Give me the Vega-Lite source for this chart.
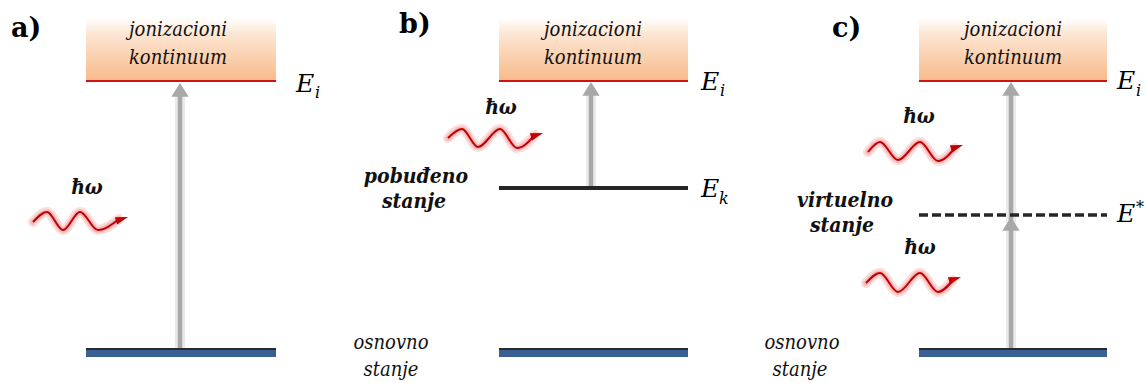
{
  "$schema": "https://vega.github.io/schema/vega-lite/v6.json",
  "width": 1146,
  "height": 383,
  "padding": 0,
  "autosize": {"type": "fit", "contains": "padding"},
  "background": "white",
  "config": {"view": {"stroke": null}},
  "datasets": {
    "continuum": [
      {"panel": "a", "x": 86, "x2": 276, "y": 18, "y2": 81},
      {"panel": "b", "x": 499, "x2": 688, "y": 18, "y2": 81},
      {"panel": "c", "x": 919, "x2": 1107, "y": 18, "y2": 81}
    ],
    "ionization": [
      {"panel": "a", "x": 86, "x2": 276, "y": 81},
      {"panel": "b", "x": 499, "x2": 688, "y": 81},
      {"panel": "c", "x": 919, "x2": 1107, "y": 81}
    ],
    "ground": [
      {"panel": "a", "x": 86, "x2": 276, "y": 349, "y2": 357},
      {"panel": "b", "x": 499, "x2": 688, "y": 349, "y2": 357},
      {"panel": "c", "x": 919, "x2": 1107, "y": 349, "y2": 357}
    ],
    "excited": [
      {"panel": "b", "x": 499, "x2": 688, "y": 188}
    ],
    "virtual": [
      {"panel": "c", "x": 919, "x2": 1107, "y": 215}
    ],
    "shafts": [
      {"panel": "a", "x": 180, "y": 349, "y2": 92},
      {"panel": "b", "x": 591, "y": 188, "y2": 92},
      {"panel": "c", "x": 1011, "y": 349, "y2": 92}
    ],
    "heads": [
      {"panel": "a", "x": 180, "y": 83},
      {"panel": "b", "x": 591, "y": 82},
      {"panel": "c", "x": 1011, "y": 82},
      {"panel": "c", "x": 1011, "y": 217}
    ],
    "waves": [
      {"wave": "a", "o": 1, "x": 33, "y": 222},
      {"wave": "a", "o": 2, "x": 47, "y": 212},
      {"wave": "a", "o": 3, "x": 63, "y": 230},
      {"wave": "a", "o": 4, "x": 80, "y": 212},
      {"wave": "a", "o": 5, "x": 98, "y": 230},
      {"wave": "a", "o": 6, "x": 119, "y": 219},
      {"wave": "b", "o": 1, "x": 448, "y": 138},
      {"wave": "b", "o": 2, "x": 462, "y": 129},
      {"wave": "b", "o": 3, "x": 478, "y": 147},
      {"wave": "b", "o": 4, "x": 500, "y": 129},
      {"wave": "b", "o": 5, "x": 517, "y": 148},
      {"wave": "b", "o": 6, "x": 535, "y": 135},
      {"wave": "c1", "o": 1, "x": 868, "y": 152},
      {"wave": "c1", "o": 2, "x": 880, "y": 142},
      {"wave": "c1", "o": 3, "x": 898, "y": 160},
      {"wave": "c1", "o": 4, "x": 920, "y": 142},
      {"wave": "c1", "o": 5, "x": 938, "y": 161},
      {"wave": "c1", "o": 6, "x": 955, "y": 148},
      {"wave": "c2", "o": 1, "x": 866, "y": 283},
      {"wave": "c2", "o": 2, "x": 880, "y": 273},
      {"wave": "c2", "o": 3, "x": 898, "y": 292},
      {"wave": "c2", "o": 4, "x": 920, "y": 273},
      {"wave": "c2", "o": 5, "x": 938, "y": 292},
      {"wave": "c2", "o": 6, "x": 953, "y": 280}
    ],
    "waveTips": [
      {"wave": "a", "x": 128, "y": 217},
      {"wave": "b", "x": 543, "y": 133},
      {"wave": "c1", "x": 963, "y": 145},
      {"wave": "c2", "x": 961, "y": 277}
    ],
    "panelLabels": [
      {"t": "a)", "x": 11, "y": 37},
      {"t": "b)", "x": 399, "y": 33},
      {"t": "c)", "x": 832, "y": 37}
    ],
    "italicLabels": [
      {"t": "jonizacioni", "x": 178, "y": 36},
      {"t": "kontinuum", "x": 178, "y": 64},
      {"t": "jonizacioni", "x": 593, "y": 36},
      {"t": "kontinuum", "x": 593, "y": 64},
      {"t": "jonizacioni", "x": 1013, "y": 36},
      {"t": "kontinuum", "x": 1013, "y": 64},
      {"t": "osnovno", "x": 391, "y": 349},
      {"t": "stanje", "x": 391, "y": 376},
      {"t": "osnovno", "x": 802, "y": 349},
      {"t": "stanje", "x": 800, "y": 376}
    ],
    "boldItalicLabels": [
      {"t": "pobuđeno", "x": 416, "y": 183},
      {"t": "stanje", "x": 414, "y": 208},
      {"t": "virtuelno", "x": 845, "y": 207},
      {"t": "stanje", "x": 842, "y": 232}
    ],
    "photonLabels": [
      {"t": "ħω", "x": 87, "y": 194},
      {"t": "ħω", "x": 501, "y": 114},
      {"t": "ħω", "x": 919, "y": 123},
      {"t": "ħω", "x": 920, "y": 254}
    ],
    "energyE": [
      {"t": "E", "x": 296, "y": 92},
      {"t": "E", "x": 701, "y": 90},
      {"t": "E", "x": 701, "y": 197},
      {"t": "E", "x": 1117, "y": 89},
      {"t": "E", "x": 1117, "y": 222}
    ],
    "energySub": [
      {"t": "i", "x": 315, "y": 98},
      {"t": "i", "x": 720, "y": 96},
      {"t": "k", "x": 719, "y": 204},
      {"t": "i", "x": 1136, "y": 96},
      {"t": "*", "x": 1136, "y": 213}
    ]
  },
  "layer": [
    {
      "data": {"name": "continuum"},
      "mark": {
        "type": "rect",
        "fill": {
          "gradient": "linear", "x1": 0, "y1": 0, "x2": 0, "y2": 1,
          "stops": [
            {"offset": 0, "color": "#ffffff"},
            {"offset": 0.25, "color": "#fde6d4"},
            {"offset": 1, "color": "#f8ba8a"}
          ]
        }
      },
      "encoding": {
        "x": {"field": "x", "type": "quantitative", "scale": {"domain": [0, 1146], "nice": false, "zero": false}, "axis": null},
        "x2": {"field": "x2"},
        "y": {"field": "y", "type": "quantitative", "scale": {"domain": [0, 383], "reverse": true, "nice": false, "zero": false}, "axis": null},
        "y2": {"field": "y2"}
      }
    },
    {
      "data": {"name": "ionization"},
      "mark": {"type": "rule", "color": "#cc1414", "strokeWidth": 2},
      "encoding": {
        "x": {"field": "x", "type": "quantitative", "axis": null},
        "x2": {"field": "x2"},
        "y": {"field": "y", "type": "quantitative", "axis": null}
      }
    },
    {
      "data": {"name": "shafts"},
      "mark": {"type": "rule", "color": "#d0d0d0", "strokeWidth": 10, "opacity": 0.45},
      "encoding": {
        "x": {"field": "x", "type": "quantitative", "axis": null},
        "y": {"field": "y", "type": "quantitative", "axis": null},
        "y2": {"field": "y2"}
      }
    },
    {
      "data": {"name": "shafts"},
      "mark": {"type": "rule", "color": "#a8a8a8", "strokeWidth": 4.5},
      "encoding": {
        "x": {"field": "x", "type": "quantitative", "axis": null},
        "y": {"field": "y", "type": "quantitative", "axis": null},
        "y2": {"field": "y2"}
      }
    },
    {
      "data": {"name": "heads"},
      "mark": {"type": "point", "shape": "M -1 1.6 L 0 0 L 1 1.6 Z", "filled": true, "color": "#a8a8a8", "opacity": 1, "size": 300},
      "encoding": {
        "x": {"field": "x", "type": "quantitative", "axis": null},
        "y": {"field": "y", "type": "quantitative", "axis": null}
      }
    },
    {
      "data": {"name": "ground"},
      "mark": {"type": "rect", "fill": "#3a5f92"},
      "encoding": {
        "x": {"field": "x", "type": "quantitative", "axis": null},
        "x2": {"field": "x2"},
        "y": {"field": "y", "type": "quantitative", "axis": null},
        "y2": {"field": "y2"}
      }
    },
    {
      "data": {"name": "ground"},
      "mark": {"type": "rule", "color": "#2a2a2a", "strokeWidth": 2},
      "encoding": {
        "x": {"field": "x", "type": "quantitative", "axis": null},
        "x2": {"field": "x2"},
        "y": {"field": "y", "type": "quantitative", "axis": null}
      }
    },
    {
      "data": {"name": "excited"},
      "mark": {"type": "rule", "color": "#262626", "strokeWidth": 4},
      "encoding": {
        "x": {"field": "x", "type": "quantitative", "axis": null},
        "x2": {"field": "x2"},
        "y": {"field": "y", "type": "quantitative", "axis": null}
      }
    },
    {
      "data": {"name": "virtual"},
      "mark": {"type": "rule", "color": "#262626", "strokeWidth": 3.5, "strokeDash": [9, 4]},
      "encoding": {
        "x": {"field": "x", "type": "quantitative", "axis": null},
        "x2": {"field": "x2"},
        "y": {"field": "y", "type": "quantitative", "axis": null}
      }
    },
    {
      "data": {"name": "waves"},
      "mark": {"type": "line", "color": "#ee6666", "strokeWidth": 10, "opacity": 0.22, "interpolate": "monotone", "strokeCap": "round"},
      "encoding": {
        "x": {"field": "x", "type": "quantitative", "axis": null},
        "y": {"field": "y", "type": "quantitative", "axis": null},
        "detail": {"field": "wave"},
        "order": {"field": "o"}
      }
    },
    {
      "data": {"name": "waves"},
      "mark": {"type": "line", "color": "#ee6666", "strokeWidth": 5.5, "opacity": 0.3, "interpolate": "monotone", "strokeCap": "round"},
      "encoding": {
        "x": {"field": "x", "type": "quantitative", "axis": null},
        "y": {"field": "y", "type": "quantitative", "axis": null},
        "detail": {"field": "wave"},
        "order": {"field": "o"}
      }
    },
    {
      "data": {"name": "waves"},
      "mark": {"type": "line", "color": "#c00000", "strokeWidth": 2, "interpolate": "monotone"},
      "encoding": {
        "x": {"field": "x", "type": "quantitative", "axis": null},
        "y": {"field": "y", "type": "quantitative", "axis": null},
        "detail": {"field": "wave"},
        "order": {"field": "o"}
      }
    },
    {
      "data": {"name": "waveTips"},
      "mark": {"type": "point", "shape": "M 0 0 L -1.7 -0.5 L -1.7 0.5 Z", "filled": true, "color": "#c00000", "opacity": 1, "size": 220, "angle": -18},
      "encoding": {
        "x": {"field": "x", "type": "quantitative", "axis": null},
        "y": {"field": "y", "type": "quantitative", "axis": null}
      }
    },
    {
      "data": {"name": "panelLabels"},
      "mark": {"type": "text", "font": "DejaVu Serif", "fontWeight": "bold", "fontSize": 27, "align": "left", "baseline": "alphabetic", "color": "#000000"},
      "encoding": {
        "x": {"field": "x", "type": "quantitative", "axis": null},
        "y": {"field": "y", "type": "quantitative", "axis": null},
        "text": {"field": "t"}
      }
    },
    {
      "data": {"name": "italicLabels"},
      "mark": {"type": "text", "font": "DejaVu Serif Condensed, DejaVu Serif", "fontStyle": "italic", "fontSize": 20, "align": "center", "baseline": "alphabetic", "color": "#111111"},
      "encoding": {
        "x": {"field": "x", "type": "quantitative", "axis": null},
        "y": {"field": "y", "type": "quantitative", "axis": null},
        "text": {"field": "t"}
      }
    },
    {
      "data": {"name": "boldItalicLabels"},
      "mark": {"type": "text", "font": "DejaVu Serif Condensed, DejaVu Serif", "fontStyle": "italic", "fontWeight": "bold", "fontSize": 21, "align": "center", "baseline": "alphabetic", "color": "#111111"},
      "encoding": {
        "x": {"field": "x", "type": "quantitative", "axis": null},
        "y": {"field": "y", "type": "quantitative", "axis": null},
        "text": {"field": "t"}
      }
    },
    {
      "data": {"name": "photonLabels"},
      "mark": {"type": "text", "font": "DejaVu Serif Condensed, DejaVu Serif", "fontStyle": "italic", "fontWeight": "bold", "fontSize": 21, "align": "center", "baseline": "alphabetic", "color": "#111111"},
      "encoding": {
        "x": {"field": "x", "type": "quantitative", "axis": null},
        "y": {"field": "y", "type": "quantitative", "axis": null},
        "text": {"field": "t"}
      }
    },
    {
      "data": {"name": "energyE"},
      "mark": {"type": "text", "font": "DejaVu Serif", "fontStyle": "italic", "fontSize": 25, "align": "left", "baseline": "alphabetic", "color": "#000000"},
      "encoding": {
        "x": {"field": "x", "type": "quantitative", "axis": null},
        "y": {"field": "y", "type": "quantitative", "axis": null},
        "text": {"field": "t"}
      }
    },
    {
      "data": {"name": "energySub"},
      "mark": {"type": "text", "font": "DejaVu Serif", "fontStyle": "italic", "fontSize": 16, "align": "left", "baseline": "alphabetic", "color": "#000000"},
      "encoding": {
        "x": {"field": "x", "type": "quantitative", "axis": null},
        "y": {"field": "y", "type": "quantitative", "axis": null},
        "text": {"field": "t"}
      }
    }
  ]
}
